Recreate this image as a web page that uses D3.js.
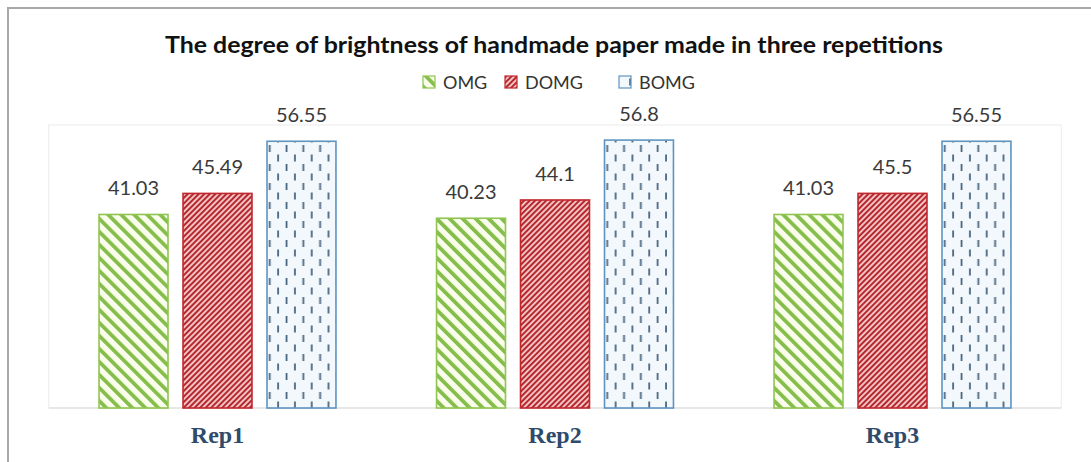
<!DOCTYPE html>
<html>
<head>
    <meta charset="utf-8">
    <title>brightness of handmade paper</title>
    <style>
        body { margin: 0; background: #fff; }
        text { font-family: Lato, "Open Sans", sans-serif; }
    </style>
</head>

<body>
<script src="https://d3js.org/d3.v7.min.js"></script>

<script>

    var width = 1091,
        height = 462;

    // chart data
    var reps = ['Rep1', 'Rep2', 'Rep3'];
    var series = ['OMG', 'DOMG', 'BOMG'];
    var omg = [41.03, 40.23, 41.03];
    var domg = [45.49, 44.1, 45.5];
    var bomg = [56.55, 56.8, 56.55];
    var title = 'The degree of brightness of handmade paper made in three repetitions';

    var values = { OMG: omg, DOMG: domg, BOMG: bomg };

    var plot = { left: 48.75, right: 1061.25, top: 125, bottom: 408 };

    var svg = d3.select('body').append('svg')
        .attr('width', width)
        .attr('height', height);

    var defs = svg.append('defs');

    // green wide stripes "\"
    var pg = defs.append('pattern')
        .attr('id', 'p-OMG')
        .attr('patternUnits', 'userSpaceOnUse')
        .attr('width', 9.2).attr('height', 9.2)
        .attr('patternTransform', 'rotate(-45)');
    pg.append('rect').attr('width', 9.2).attr('height', 9.2).attr('fill', '#fbfdec');
    pg.append('rect').attr('width', 3.8).attr('height', 9.2).attr('fill', '#86be4c');

    // red narrow stripes "/"
    var pr = defs.append('pattern')
        .attr('id', 'p-DOMG')
        .attr('patternUnits', 'userSpaceOnUse')
        .attr('width', 3.9).attr('height', 3.9)
        .attr('patternTransform', 'rotate(45)');
    pr.append('rect').attr('width', 3.9).attr('height', 3.9).attr('fill', '#f6c6c6');
    pr.append('rect').attr('width', 2).attr('height', 3.9).attr('fill', '#b3282f');

    // blue dashed verticals, staggered
    var pb = defs.append('pattern')
        .attr('id', 'p-BOMG')
        .attr('patternUnits', 'userSpaceOnUse')
        .attr('x', 267).attr('y', 145)
        .attr('width', 16.8).attr('height', 19);
    pb.append('rect').attr('width', 16.8).attr('height', 19).attr('fill', '#f3f8fc');
    pb.append('rect').attr('x', 3.6).attr('y', 0).attr('width', 1.8).attr('height', 7).attr('fill', '#4a6782');
    pb.append('rect').attr('x', 12).attr('y', 9.5).attr('width', 1.8).attr('height', 7).attr('fill', '#4a6782');

    var stroke = { OMG: '#8fc550', DOMG: '#c0262c', BOMG: '#5f94c0' };

    // outer frame (left and top edges only show)
    svg.append('path')
        .attr('d', 'M8,' + height + 'V8H' + width)
        .attr('fill', 'none')
        .attr('stroke', '#a8a8a8')
        .attr('stroke-width', 2);

    var x0 = d3.scaleBand()
        .domain(reps)
        .range([plot.left, plot.right])
        .paddingInner(0.298)
        .paddingOuter(0.149);

    var x1 = d3.scaleBand()
        .domain(series)
        .range([0, x0.bandwidth()])
        .paddingInner(0.179);

    var y = d3.scaleLinear()
        .domain([0, 60])
        .range([plot.bottom, plot.top]);

    // plot area box
    svg.append('rect')
        .attr('x', plot.left)
        .attr('y', y(60))
        .attr('width', plot.right - plot.left)
        .attr('height', y(0) - y(60))
        .attr('fill', 'none')
        .attr('stroke', '#ececec');

    svg.append('line')
        .attr('x1', plot.left).attr('x2', plot.right)
        .attr('y1', y(0)).attr('y2', y(0))
        .attr('stroke', '#d9d9d9');

    var groups = svg.selectAll('g.rep')
        .data(reps)
        .enter().append('g')
        .attr('class', 'rep')
        .attr('transform', function (d) { return 'translate(' + x0(d) + ',0)'; });

    groups.selectAll('rect')
        .data(function (d, i) {
            return series.map(function (s) { return { s: s, v: values[s][i] }; });
        })
        .enter().append('rect')
        .attr('x', function (d) { return x1(d.s); })
        .attr('y', function (d) { return y(d.v); })
        .attr('width', x1.bandwidth())
        .attr('height', function (d) { return y(0) - y(d.v); })
        .attr('fill', function (d) { return 'url(#p-' + d.s + ')'; })
        .attr('stroke', function (d) { return stroke[d.s]; })
        .attr('stroke-width', 1.6);

    groups.selectAll('text.val')
        .data(function (d, i) {
            return series.map(function (s) { return { s: s, v: values[s][i] }; });
        })
        .enter().append('text')
        .attr('class', 'val')
        .attr('x', function (d) { return x1(d.s) + x1.bandwidth() / 2; })
        .attr('y', function (d) { return y(d.v) - 19; })
        .attr('text-anchor', 'middle')
        .attr('font-size', 20)
        .attr('fill', '#3a3a3a')
        .text(function (d) { return d.v; });

    // category labels
    svg.selectAll('text.cat')
        .data(reps)
        .enter().append('text')
        .attr('class', 'cat')
        .attr('x', function (d) { return x0(d) + x0.bandwidth() / 2; })
        .attr('y', 443)
        .attr('text-anchor', 'middle')
        .style('font-family', '"Liberation Serif", "DejaVu Serif", serif')
        .attr('font-weight', 'bold')
        .attr('font-size', 24)
        .attr('fill', '#2f4b6c')
        .text(function (d) { return d; });

    // title
    svg.append('text')
        .attr('x', 554)
        .attr('y', 53)
        .attr('text-anchor', 'middle')
        .attr('font-weight', 'bold')
        .attr('font-size', 23)
        .attr('textLength', 778)
        .attr('lengthAdjust', 'spacingAndGlyphs')
        .attr('fill', '#111')
        .text(title);

    // legend
    var legendX = [423, 505, 619];
    var legend = svg.selectAll('g.leg')
        .data(series)
        .enter().append('g')
        .attr('class', 'leg')
        .attr('transform', function (d, i) { return 'translate(' + legendX[i] + ',76)'; });

    legend.append('rect')
        .attr('width', 12).attr('height', 12)
        .attr('fill', function (d) { return 'url(#p-' + d + ')'; })
        .attr('stroke', function (d) { return stroke[d]; })
        .attr('stroke-width', 1.2);

    legend.append('text')
        .attr('x', 20)
        .attr('y', 12.5)
        .attr('font-size', 18)
        .attr('fill', '#333')
        .text(function (d) { return d; });

</script>
</body>
</html>
